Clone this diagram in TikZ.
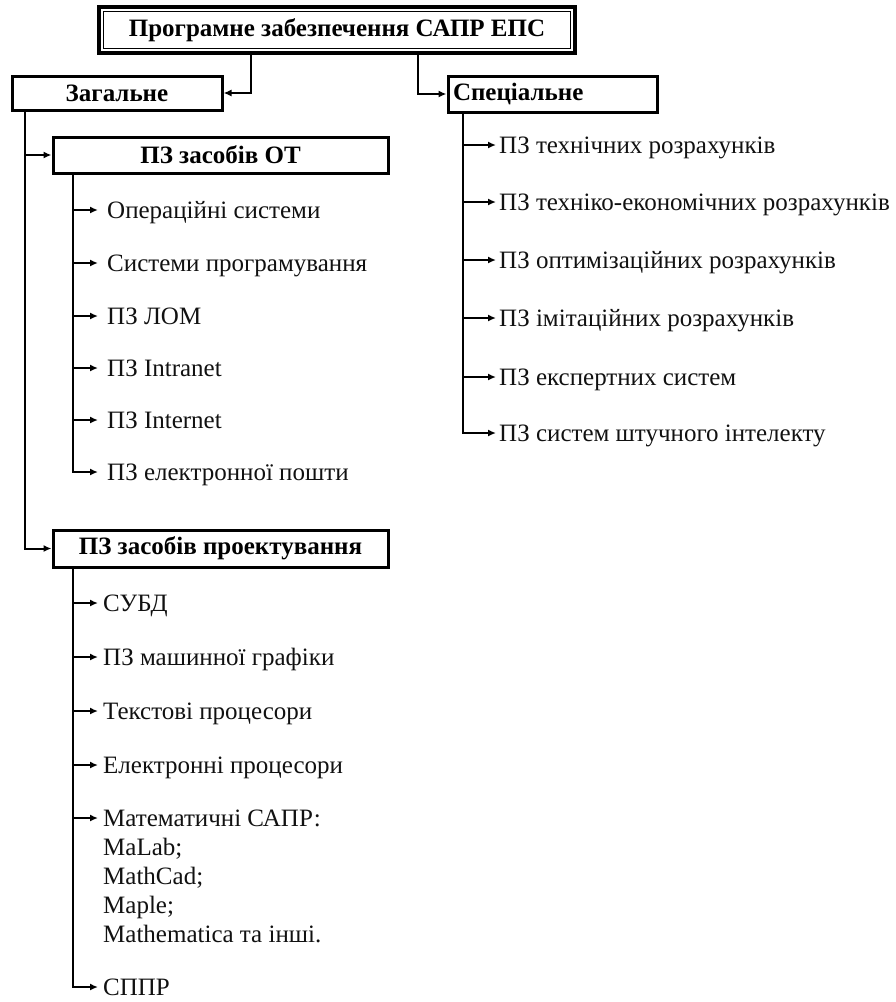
\documentclass[tikz,border=0pt]{standalone}
\usepackage{fontspec}
\setmainfont{Liberation Serif}
\usetikzlibrary{arrows.meta}
\definecolor{txt}{HTML}{111111}
\begin{document}
\begin{tikzpicture}[x=1pt,y=1pt,
  box/.style={draw, line width=3pt, inner sep=0pt, font=\fontsize{25}{30}\selectfont\bfseries},
  item/.style={anchor=west, inner sep=0pt, text height=21pt, text depth=5pt, font=\fontsize{25}{29}\selectfont, text=txt},
  conn/.style={line width=2pt},
  arr/.style={line width=2pt, -{Latex[length=8pt,width=7pt]}}]
\useasboundingbox (0,0) rectangle (896,-1002);

% boxes
\node[box, line width=3.5pt, minimum width=476pt, minimum height=46pt] (top) at (337,-30) {Програмне забезпечення САПР ЕПС};
\draw[line width=1pt] ([shift={(6,-6)}]top.north west) rectangle ([shift={(-6,6)}]top.south east);
\node[box, minimum width=210pt, minimum height=34pt] (zag) at (117,-93) {Загальне};
\node[box, minimum width=209pt, minimum height=36pt, inner xsep=5pt, text width=199pt, align=left] (spec) at (552.5,-94) {Спеціальне};
\node[box, minimum width=335pt, minimum height=36pt] (ot) at (220.5,-155) {ПЗ засобів ОТ};
\node[box, minimum width=335pt, minimum height=37pt] (proj) at (220.5,-548.5) {ПЗ засобів проектування};

% trunk coordinates
\coordinate (bl) at (251,0);
\coordinate (br) at (418,0);
\coordinate (zt) at (25,0);
\coordinate (otT) at (73,0);
\coordinate (pT) at (73,0);
\coordinate (sT) at (463,0);

% top connectors
\draw[arr] (top.south -| bl) |- (zag.east);
\draw[arr] (top.south -| br) |- (spec.west);

% general trunk
\draw[arr] (zag.south -| zt) |- (proj.west);
\draw[arr] (ot.west -| zt) -- (ot.west);

% OT items
\node[item] (o1) at (107,-210) {Операційні системи};
\node[item] (o2) at (107,-263) {Системи програмування};
\node[item] (o3) at (107,-316) {ПЗ ЛОМ};
\node[item] (o4) at (107,-368) {ПЗ Intranet};
\node[item] (o5) at (107,-420) {ПЗ Internet};
\node[item] (o6) at (107,-472) {ПЗ електронної пошти};
\draw[arr] (ot.south -| otT) |- ([xshift=-9pt]o6.west);
\foreach \n in {o1,o2,o3,o4,o5}
  \draw[arr] (\n.west -| otT) -- ([xshift=-9pt]\n.west);

% design items
\node[item] (p1) at (103,-603) {СУБД};
\node[item] (p2) at (103,-657) {ПЗ машинної графіки};
\node[item] (p3) at (103,-711) {Текстові процесори};
\node[item] (p4) at (103,-765) {Електронні процесори};
\node[anchor=north west, inner sep=0pt, align=left, font=\fontsize{25}{29}\selectfont, text=txt] (mat) at (103,-805)
  {\rule{0pt}{21pt}Математичні САПР:\\MaLab;\\MathCad;\\Maple;\\Mathematica та інші.};
\coordinate (m1) at ([yshift=-13pt]mat.north west);
\node[item] (p6) at (103,-987) {СППР};
\draw[arr] (proj.south -| pT) |- ([xshift=-5pt]p6.west);
\foreach \n in {p1,p2,p3,p4}
  \draw[arr] (\n.west -| pT) -- ([xshift=-5pt]\n.west);
\draw[arr] (m1 -| pT) -- ([xshift=-5pt]m1);

% special items
\node[item] (s1) at (499,-145) {ПЗ технічних розрахунків};
\node[item] (s2) at (499,-202) {ПЗ техніко-економічних розрахунків};
\node[item] (s3) at (499,-260) {ПЗ оптимізаційних розрахунків};
\node[item] (s4) at (499,-318) {ПЗ імітаційних розрахунків};
\node[item] (s5) at (499,-377) {ПЗ експертних систем};
\node[item] (s6) at (499,-433) {ПЗ систем штучного інтелекту};
\draw[arr] (spec.south -| sT) |- ([xshift=-3pt]s6.west);
\foreach \n in {s1,s2,s3,s4,s5}
  \draw[arr] (\n.west -| sT) -- ([xshift=-3pt]\n.west);
\end{tikzpicture}
\end{document}
